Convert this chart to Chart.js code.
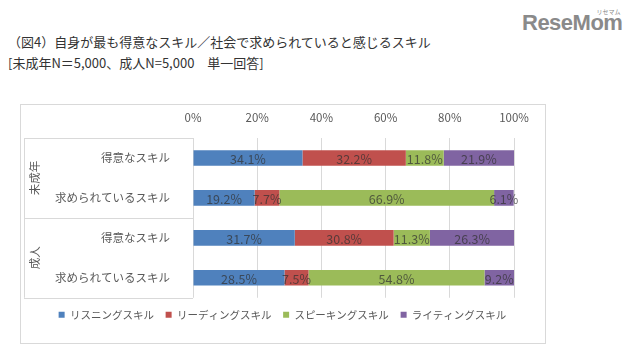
<!DOCTYPE html>
<html>
<head>
<meta charset="utf-8">
<script src="https://cdn.jsdelivr.net/npm/chart.js@4/dist/chart.umd.min.js"></script>
<style>
  body { margin: 0; background: #fff; }
  #wrap { position: relative; width: 632px; height: 359px; overflow: hidden; font-family: "Noto Sans CJK JP", sans-serif; }
  .title { position: absolute; left: 8px; font-size: 13px; color: #333; white-space: nowrap; }
  #frame { position: absolute; left: 20px; top: 104px; width: 524px; height: 238px; border: 1px solid #d9d9d9; }
  #c { position: absolute; left: 20px; top: 104px; }
  #logo { position: absolute; left: 522px; top: 10px; font-family: "Liberation Sans", sans-serif; font-weight: bold; font-size: 22px; color: #8a8a8a; letter-spacing: -0.5px; }
  #logo small { position: absolute; right: 2px; top: -3px; font-size: 6px; font-weight: normal; letter-spacing: 0; font-family: "Noto Sans CJK JP", sans-serif; }
</style>
</head>
<body>
<div id="wrap">
  <div class="title" style="top:32px">（図4）自身が最も得意なスキル／社会で求められていると感じるスキル</div>
  <div class="title" style="top:53px">[未成年N＝5,000、成人N=5,000　単一回答]</div>
  <div id="logo">ReseMom<small>リセマム</small></div>
  <div id="frame"></div>
  <canvas id="c" width="525" height="239"></canvas>
</div>
<script>
const categories = ['得意なスキル', '求められているスキル', '得意なスキル', '求められているスキル'];
const groups = ['未成年', '成人'];
const seriesNames = ['リスニングスキル', 'リーディングスキル', 'スピーキングスキル', 'ライティングスキル'];
const listening = [34.1, 19.2, 31.7, 28.5];
const reading = [32.2, 7.7, 30.8, 7.5];
const speaking = [11.8, 66.9, 11.3, 54.8];
const writing = [21.9, 6.1, 26.3, 9.2];
const xTicks = [0, 20, 40, 60, 80, 100];

const colors = ['#4f81bd', '#c0504d', '#9bbb59', '#8064a2'];
const gridColor = '#d9d9d9';
const textColor = '#595959';
const fontFamily = '"Noto Sans CJK JP", sans-serif';

Chart.defaults.font.family = fontFamily;

// values printed in the middle of each bar piece
const barLabels = {
    id: 'barLabels',
    afterDatasetsDraw(chart) {
        const ctx = chart.ctx;
        ctx.save();
        ctx.font = '12.5px ' + fontFamily;
        ctx.fillStyle = 'rgba(50, 50, 50, 0.72)';
        ctx.textAlign = 'center';
        ctx.textBaseline = 'middle';
        chart.data.datasets.forEach((ds, i) => {
            chart.getDatasetMeta(i).data.forEach((bar, j) => {
                const cx = (bar.x + bar.base) / 2;
                ctx.fillText(ds.data[j].toFixed(1) + '%', cx, bar.y + 1);
            });
        });
        ctx.restore();
    }
};

// the two group boxes on the left (未成年 / 成人)
const groupAxis = {
    id: 'groupAxis',
    afterDraw(chart) {
        const ctx = chart.ctx;
        const y = chart.scales.y;
        const area = chart.chartArea;
        const left = 4;
        const per = categories.length / groups.length;
        ctx.save();
        ctx.strokeStyle = gridColor;
        ctx.lineWidth = 1;
        ctx.beginPath();
        ctx.moveTo(left + 0.5, area.top);
        ctx.lineTo(left + 0.5, area.bottom);
        const lines = [area.top];
        for (let g = 1; g < groups.length; g++) {
            lines.push((y.getPixelForValue(g * per - 1) + y.getPixelForValue(g * per)) / 2);
        }
        lines.push(area.bottom);
        lines.forEach(ly => {
            ctx.moveTo(left, Math.round(ly) + 0.5);
            ctx.lineTo(area.left, Math.round(ly) + 0.5);
        });
        ctx.stroke();
        ctx.font = '11.5px ' + fontFamily;
        ctx.fillStyle = textColor;
        ctx.textAlign = 'center';
        ctx.textBaseline = 'middle';
        groups.forEach((name, g) => {
            const cy = (lines[g] + lines[g + 1]) / 2;
            ctx.save();
            ctx.translate(15, cy);
            ctx.rotate(-Math.PI / 2);
            ctx.fillText(name, 0, 0);
            ctx.restore();
        });
        ctx.restore();
    }
};

const series = [listening, reading, speaking, writing];

new Chart(document.getElementById('c'), {
    type: 'bar',
    data: {
        labels: categories,
        datasets: series.map((d, i) => ({
            label: seriesNames[i],
            data: d,
            backgroundColor: colors[i],
            borderWidth: 0,
            barPercentage: 0.39,
            categoryPercentage: 1
        }))
    },
    options: {
        indexAxis: 'y',
        responsive: false,
        animation: false,
        layout: { padding: { left: 0, right: 0, top: 0, bottom: 13 } },
        scales: {
            x: {
                position: 'top',
                stacked: true,
                min: 0,
                max: 100,
                afterBuildTicks: s => { s.ticks = xTicks.map(v => ({ value: v })); },
                ticks: {
                    callback: v => v + '%',
                    color: textColor,
                    font: { size: 11.5 },
                    padding: 13,
                    maxRotation: 0
                },
                grid: { color: gridColor, drawTicks: false },
                border: { display: false },
                afterFit: s => { s.height = 34; }
            },
            y: {
                stacked: true,
                ticks: {
                    color: textColor,
                    font: { size: 11.5 },
                    padding: 15
                },
                grid: { display: false },
                border: { display: false },
                afterFit: s => { s.width = 173; }
            },
            // empty strip on the right so the plot ends where the reference does
            yRight: {
                position: 'right',
                ticks: { display: false },
                grid: { display: false },
                border: { display: false },
                afterFit: s => { s.width = 31; }
            }
        },
        plugins: {
            legend: {
                position: 'bottom',
                labels: {
                    boxWidth: 6,
                    boxHeight: 6,
                    padding: 11.75,
                    color: textColor,
                    font: { size: 10.5 }
                }
            },
            tooltip: { enabled: false }
        }
    },
    plugins: [barLabels, groupAxis]
});
</script>
</body>
</html>
